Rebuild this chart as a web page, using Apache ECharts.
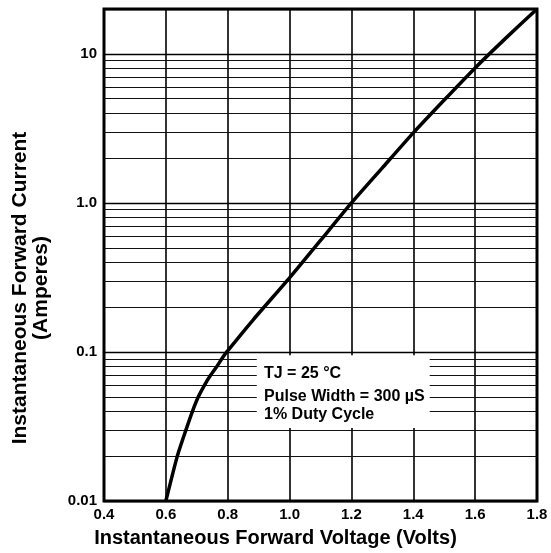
<!DOCTYPE html>
<html>
<head>
<meta charset="utf-8">
<script src="https://cdn.jsdelivr.net/npm/echarts@6/dist/echarts.min.js"></script>
<style>
html,body{margin:0;padding:0;background:#fff;}
#chart{width:551px;height:553px;}
</style>
</head>
<body>
<div id="chart"></div>
<script>
// Data
var voltage = [0.6, 0.637, 0.665, 0.686, 0.705, 0.725, 0.745, 0.765, 0.781, 0.797, 0.883, 1.0, 1.1, 1.2, 1.3, 1.4, 1.5, 1.6, 1.7, 1.8];
var current = [0.01, 0.02, 0.03, 0.04, 0.05, 0.06, 0.07, 0.08, 0.09, 0.1, 0.165, 0.314, 0.56, 1.0, 1.72, 2.95, 4.9, 8.05, 12.8, 20];
var xTicks = [0.4, 0.6, 0.8, 1.0, 1.2, 1.4, 1.6, 1.8];
var yDecades = [0.01, 0.1, 1, 10];
var yDecadeLabels = ['0.01', '0.1', '1.0', '10'];
var minorMultipliers = [2, 3, 4, 5, 6, 7, 8, 9];
var noteLines = ['TJ = 25 \u00B0C', 'Pulse Width = 300 \u00B5S', '1% Duty Cycle'];
var noteBox = [[0.894, 0.095], [1.453, 0.0309]];
var xTitle = 'Instantaneous Forward Voltage (Volts)';
var yTitle = ['Instantaneous Forward Current', '(Amperes)'];

var FONT = '"Liberation Sans", Arial, sans-serif';
var yMax = 20;

var minorValues = [];
yDecades.forEach(function (d) {
  minorMultipliers.forEach(function (m) {
    var v = +(d * m).toPrecision(6);
    if (v < yMax) minorValues.push(v);
  });
});

var pts = voltage.map(function (v, i) { return [v, current[i]]; });

var chart = echarts.init(document.getElementById('chart'), null, {renderer: 'canvas'});
chart.setOption({
  animation: false,
  backgroundColor: '#fff',
  grid: {
    left: 104, top: 9, width: 433, height: 492,
    show: true, borderColor: '#000', borderWidth: 3, backgroundColor: 'transparent'
  },
  xAxis: {
    type: 'value', min: xTicks[0], max: xTicks[xTicks.length - 1], interval: 0.2,
    axisLine: {show: false}, axisTick: {show: false},
    splitLine: {show: true, lineStyle: {color: '#000', width: 1.6}},
    axisLabel: {
      color: '#000', fontFamily: FONT, fontWeight: 'bold', fontSize: 15, margin: 6,
      formatter: function (v) { return v.toFixed(1); }
    }
  },
  yAxis: {
    type: 'log', logBase: 10, min: yDecades[0], max: yMax,
    axisLine: {show: false}, axisTick: {show: false},
    splitLine: {show: true, lineStyle: {color: '#000', width: 1.3}},
    axisLabel: {
      color: '#000', fontFamily: FONT, fontWeight: 'bold', fontSize: 15, margin: 7,
      showMaxLabel: false,
      formatter: function (v) {
        var lg = Math.log10(v);
        var r = Math.round(lg);
        if (Math.abs(lg - r) > 1e-6) return '';
        var idx = yDecades.findIndex(function (d) { return Math.abs(Math.log10(d) - r) < 1e-6; });
        return idx >= 0 ? yDecadeLabels[idx] : '';
      }
    }
  },
  series: [
    {
      type: 'line', data: [], silent: true,
      markLine: {
        z: 1, silent: true, symbol: 'none', animation: false,
        label: {show: false},
        lineStyle: {color: '#111', width: 1.2, type: 'solid'},
        data: minorValues.map(function (v) { return {yAxis: v}; })
      }
    },
    {
      type: 'line', data: [], silent: true,
      markArea: {
        z: 3, silent: true, animation: false,
        itemStyle: {color: '#fff', opacity: 1},
        label: {show: false},
        data: [[{coord: noteBox[0]}, {coord: noteBox[1]}]]
      }
    },
    {
      type: 'line', z: 5, data: pts, showSymbol: false, symbol: 'none',
      smooth: 0.2,
      lineStyle: {color: '#000', width: 3.5},
      clip: true
    }
  ],
  graphic: [
    {
      type: 'text', z: 10, left: 264, top: 366,
      style: {text: noteLines[0], font: 'bold 16px ' + FONT, fill: '#000'}
    },
    {
      type: 'text', z: 10, left: 264, top: 389,
      style: {text: noteLines[1], font: 'bold 16px ' + FONT, fill: '#000'}
    },
    {
      type: 'text', z: 10, left: 264, top: 407,
      style: {text: noteLines[2], font: 'bold 16px ' + FONT, fill: '#000'}
    },
    {
      type: 'text', z: 10, left: 'center', top: 528,
      style: {text: xTitle, font: 'bold 20px ' + FONT, fill: '#000', textAlign: 'center'}
    },
    {
      type: 'text', z: 10, x: 31, y: 288, rotation: Math.PI / 2,
      style: {
        text: yTitle.join('\n'), font: 'bold 21px ' + FONT, fill: '#000',
        textAlign: 'center', textVerticalAlign: 'middle', lineHeight: 21
      }
    }
  ]
});
</script>
</body>
</html>
